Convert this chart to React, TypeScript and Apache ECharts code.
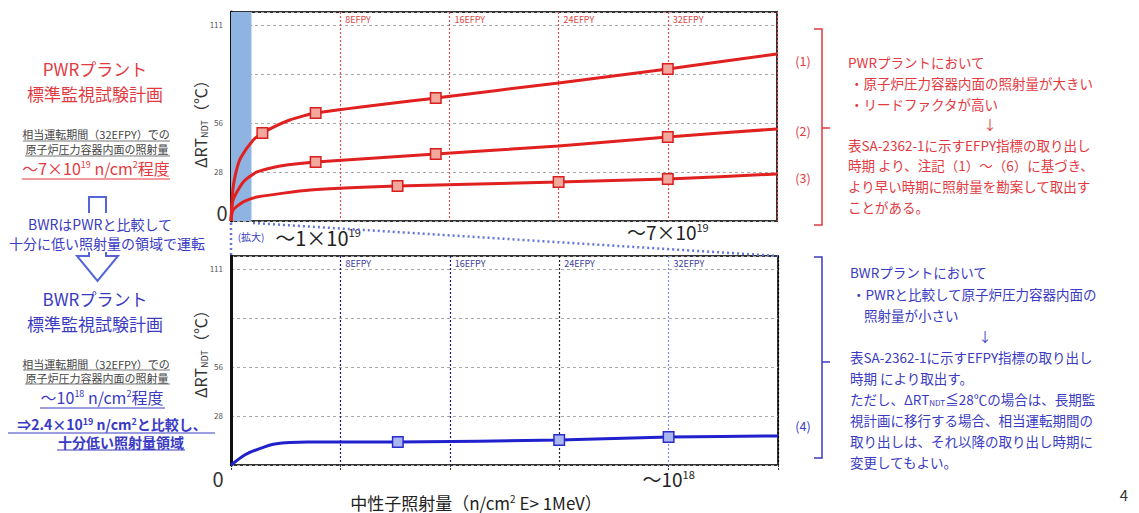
import React, { useEffect, useRef } from "react";
import * as echarts from "echarts";

const FONT = '"Noto Sans CJK JP", "Noto Sans", sans-serif';

// ---- data ----
const efpyTicks = [8, 16, 24, 32];
const yTickLabels: Record<number, string> = { 28: "28", 56: "56", 112: "111" };
const zoomRange = [0, 1.5];

const pwr1 = [[0, 0], [0.05, 8], [0.15, 19], [0.4, 29], [0.7, 36], [1.6, 46], [2.3, 50.3], [4.3, 57.7], [6.2, 61.7], [15, 70.3], [24, 78.9], [32, 86.9], [40, 95.4]];
const pwr1Markers = [[2.3, 50.3], [6.2, 61.7], [15, 70.3], [32, 86.9]];
const pwr2 = [[0, 0], [0.15, 12], [0.9, 22.3], [1.9, 28], [3.5, 31.3], [6.2, 33.7], [15, 38.3], [24, 42.9], [32, 48], [40, 52.6]];
const pwr2Markers = [[6.2, 33.7], [15, 38.3], [32, 48]];
const pwr3 = [[0, 0], [0.15, 6.3], [0.9, 10.9], [1.9, 13.7], [5.8, 17.7], [12.2, 20], [24, 22.3], [32, 24], [40, 26.9]];
const pwr3Markers = [[12.2, 20], [24, 22.3], [32, 24]];
const bwr = [[0, 0], [1.0, 5.7], [2.0, 9.1], [3.2, 12], [5.6, 13.1], [12.2, 13.1], [24, 14.3], [32, 16], [40, 16.6]];
const bwrMarkers = [[12.2, 13.1], [24, 14.3], [32, 16]];

const RED = "#e12020";
const RED_T = "#e23a3f";
const BLUE = "#2020cc";
const BLUE_T = "#3a3ac2";

function txt(x: number, y: number, text: string, fontSize: number, fill: string, extra: any = {}) {
  const align = extra.align || "left";
  return {
    type: "text",
    x,
    y,
    z: 10,
    rotation: extra.rotation || 0,
    style: {
      text,
      fontSize,
      fill,
      fontFamily: FONT,
      fontWeight: extra.bold ? "bold" : "normal",
      lineHeight: extra.lineHeight || Math.round(fontSize + 1),
      align,
      textAlign: align,
      verticalAlign: "middle",
      textVerticalAlign: "middle",
      rich: extra.rich,
    },
  };
}
function ln(x1: number, y1: number, x2: number, y2: number, stroke: string, lineWidth = 1, lineDash?: number[]) {
  return { type: "line", z: 10, shape: { x1, y1, x2, y2 }, style: { stroke, lineWidth, lineDash } };
}
function pl(points: number[][], stroke: string, lineWidth = 1.5) {
  return { type: "polyline", z: 10, shape: { points }, style: { stroke, lineWidth, fill: "none" } };
}
function supRich(size: number, sup: number, color: string, bold = false) {
  const lh = Math.round(size + 1);
  return {
    a: { fontSize: size, lineHeight: lh, fill: color, color, fontFamily: FONT, fontWeight: bold ? "bold" : "normal" },
    s: { fontSize: sup, lineHeight: lh, fill: color, color, fontFamily: FONT, verticalAlign: "top", fontWeight: bold ? "bold" : "normal" },
  };
}

function xEFPY(gridIndex: number, color: string) {
  return {
    gridIndex, type: "value", min: 0, max: 40, interval: 8, position: "top",
    axisLine: { show: false }, axisTick: { show: false }, splitLine: { show: false },
    axisLabel: {
      inside: true, margin: 3, align: "left", padding: [0, 0, 0, 5], fontSize: 9, color, fontFamily: FONT,
      formatter: (v: number) => (efpyTicks.includes(v) ? `${v}EFPY` : ""),
    },
  };
}
function yAx(gridIndex: number) {
  return {
    gridIndex, type: "value", min: 0, max: 119.4, interval: 28,
    axisLine: { show: true, lineStyle: { color: "#111", width: 3 } },
    axisTick: { show: false },
    axisLabel: { fontSize: 8, color: "#555", margin: 8, fontFamily: FONT, formatter: (v: number) => yTickLabels[v] ?? "" },
    splitLine: { show: true, lineStyle: { color: "#a8a8a8", type: [3, 3], width: 1 } },
  };
}

export default function App() {
  const ref = useRef<HTMLDivElement>(null);
  useEffect(() => {
    if (!ref.current) return;
    const chart = echarts.init(ref.current, null, { renderer: "svg" });
    const yName = (x: number, y: number) =>
      txt(x, y, "{a|ΔRT}{b|NDT}{a|（℃）}", 16, "#333", {
        align: "center",
        rotation: Math.PI / 2,
        rich: {
          a: { fontSize: 16, lineHeight: 17, fill: "#333", fontFamily: FONT },
          b: { fontSize: 9, lineHeight: 17, fill: "#333", fontFamily: FONT, verticalAlign: "bottom" },
        },
      });
    const lineSeries = (d: number[][], xi: number, yi: number, color: string) => ({
      type: "line", xAxisIndex: xi, yAxisIndex: yi, data: d, smooth: 0.2,
      showSymbol: false, z: 3, lineStyle: { color, width: 3 },
    });
    const option: any = {
      animation: false,
      backgroundColor: "#fff",
      grid: [
        { left: 231, top: 12, width: 546, height: 209, show: true, borderColor: "#333", borderWidth: 2, backgroundColor: "#fff" },
        { left: 231, top: 256, width: 547, height: 209, show: true, borderColor: "#333", borderWidth: 2, backgroundColor: "#fff" },
      ],
      xAxis: [
        {
          gridIndex: 0, type: "value", min: 0, max: 40, interval: 8, position: "bottom",
          axisLine: { show: false }, axisTick: { show: false },
          axisLabel: { margin: 0, formatter: (v: number) => (v === 32 ? "{a|～7×10}{s|19}" : ""), rich: supRich(19, 11, "#222") },
          splitLine: { show: true, lineStyle: { color: "#e05050", type: [2, 2], width: 1.2 } },
        },
        xEFPY(0, "#d84848"),
        {
          gridIndex: 1, type: "value", min: 0, max: 40, interval: 8, position: "bottom",
          axisLine: { show: false },
          axisTick: { show: true, length: 5, lineStyle: { color: "#333", type: [2, 1] } },
          axisLabel: { margin: 3, formatter: (v: number) => (v === 32 ? "{a|～10}{s|18}" : ""), rich: supRich(19, 11, "#222") },
          splitLine: { show: true, lineStyle: { color: ["#000", "#1a1a70", "#1a1a70", "#222", "#7f8ee8", "#000"], type: [2, 2], width: 1.2 } },
        },
        xEFPY(1, "#40409a"),
      ],
      yAxis: [yAx(0), yAx(1)],
      series: [
        {
          type: "line", xAxisIndex: 0, yAxisIndex: 0, data: [[0, 0]], showSymbol: false, z: 1,
          lineStyle: { width: 0 },
          markArea: { silent: true, itemStyle: { color: "#8fb4e2", opacity: 1 }, data: [[{ xAxis: zoomRange[0] }, { xAxis: zoomRange[1] }]] },
        },
        lineSeries(pwr1, 0, 0, RED),
        lineSeries(pwr2, 0, 0, RED),
        lineSeries(pwr3, 0, 0, RED),
        ...[pwr1Markers, pwr2Markers, pwr3Markers].map((d) => ({
          type: "scatter", xAxisIndex: 0, yAxisIndex: 0, data: d, symbol: "rect", symbolSize: 10.5, z: 4,
          itemStyle: { color: "#f2a89c", borderColor: "#d81e1e", borderWidth: 1.5, opacity: 1 },
        })),
        lineSeries(bwr, 2, 1, BLUE),
        {
          type: "scatter", xAxisIndex: 2, yAxisIndex: 1, data: bwrMarkers, symbol: "rect", symbolSize: 10.5, z: 4,
          itemStyle: { color: "#a9b6f0", borderColor: "#2a2acc", borderWidth: 1.5, opacity: 1 },
        },
      ],
      graphic: [
        // left panel – PWR
        txt(95, 68, "PWRプラント", 17, RED_T, { align: "center" }),
        txt(95, 93, "標準監視試験計画", 17, RED_T, { align: "center" }),
        txt(96, 134, "相当運転期間（32EFPY）での", 11, "#444", { align: "center" }),
        ln(23, 141, 170, 141, "#777"),
        txt(97, 149, "原子炉圧力容器内面の照射量", 11, "#444", { align: "center" }),
        ln(25, 156, 170, 156, "#777"),
        txt(96, 168, "{a|～7×10}{s|19}{a| n/cm}{s|2}{a|程度}", 16, RED_T, { align: "center", rich: supRich(16, 9, RED_T) }),
        ln(22, 179, 170, 179, RED_T),
        // arrow
        pl([[89, 213], [89, 197], [106, 197], [106, 213]], "#5565d8", 2),
        txt(100, 224, "BWRはPWRと比較して", 14, BLUE_T, { align: "center" }),
        txt(107, 243, "十分に低い照射量の領域で運転", 14, BLUE_T, { align: "center" }),
        pl([[89, 252], [89, 256], [77, 256], [97.5, 281], [118, 256], [106, 256], [106, 252]], "#5565d8", 2),
        // left panel – BWR
        txt(95, 298, "BWRプラント", 17, BLUE_T, { align: "center" }),
        txt(95, 323, "標準監視試験計画", 17, BLUE_T, { align: "center" }),
        txt(96, 364, "相当運転期間（32EFPY）での", 11, "#444", { align: "center" }),
        ln(23, 370, 170, 370, "#777"),
        txt(97, 378, "原子炉圧力容器内面の照射量", 11, "#444", { align: "center" }),
        ln(25, 384, 170, 384, "#777"),
        txt(102, 397, "{a|～10}{s|18}{a| n/cm}{s|2}{a|程度}", 16, BLUE_T, { align: "center", rich: supRich(16, 9, BLUE_T) }),
        ln(40, 408, 165, 408, BLUE_T),
        txt(112, 424, "{a|⇒2.4×10}{s|19}{a| n/cm}{s|2}{a|と比較し、}", 14, BLUE_T, { align: "center", rich: supRich(14, 9, BLUE_T, true) }),
        ln(8, 433, 215, 433, BLUE_T),
        txt(121, 442, "十分低い照射量領域", 14, BLUE_T, { align: "center", bold: true }),
        ln(57, 450, 185, 450, BLUE_T),
        // axis names / annotations
        yName(200, 120),
        yName(200, 350),
        txt(222, 212, "0", 20, "#333", { align: "center" }),
        txt(218, 478, "0", 20, "#333", { align: "center" }),
        txt(251, 236, "(拡大)", 10, BLUE_T, { align: "center" }),
        txt(318, 237, "{a|～1×10}{s|19}", 20, "#222", { align: "center", rich: supRich(20, 11, "#222") }),
        ln(231, 223, 231, 256, "#6575d8", 2.5, [2, 3]),
        ln(253, 223, 778, 256, "#6575d8", 2.5, [2, 3]),
        txt(476, 502, "{a|中性子照射量（n/cm}{s|2}{a| E> 1MeV）}", 17, "#222", { align: "center", rich: supRich(17, 10, "#222") }),
        // right labels and brackets
        txt(803, 60, "(1)", 12.5, RED_T, { align: "center" }),
        txt(803, 130, "(2)", 12.5, RED_T, { align: "center" }),
        txt(803, 177, "(3)", 12.5, RED_T, { align: "center" }),
        txt(803, 425, "(4)", 12.5, BLUE_T, { align: "center" }),
        pl([[814, 29], [822, 29], [822, 225], [814, 225]], RED_T, 1.5),
        ln(822, 128, 830, 128, RED_T, 1.5),
        pl([[814, 257], [822, 257], [822, 458], [814, 458]], BLUE_T, 1.5),
        ln(822, 362, 830, 362, BLUE_T, 1.5),
        // right red text
        txt(848, 62, "PWRプラントにおいて", 13.5, RED_T),
        txt(850, 83, "・原子炉圧力容器内面の照射量が大きい", 13.5, RED_T),
        txt(850, 104, "・リードファクタが高い", 13.5, RED_T),
        txt(990, 124, "↓", 13.5, RED_T, { align: "center" }),
        txt(848, 145, "表SA-2362-1に示すEFPY指標の取り出し", 13.5, RED_T),
        txt(848, 165, "時期 より、注記（1）～（6）に基づき、", 13.5, RED_T),
        txt(848, 186, "より早い時期に照射量を勘案して取出す", 13.5, RED_T),
        txt(848, 207, "ことがある。", 13.5, RED_T),
        // right blue text
        txt(850, 272, "BWRプラントにおいて", 13.5, BLUE_T),
        txt(852, 294, "・PWRと比較して原子炉圧力容器内面の", 13.5, BLUE_T),
        txt(864, 315, "照射量が小さい", 13.5, BLUE_T),
        txt(985, 336, "↓", 13.5, BLUE_T, { align: "center" }),
        txt(850, 357, "表SA-2362-1に示すEFPY指標の取り出し", 13.5, BLUE_T),
        txt(850, 378, "時期 により取出す。", 13.5, BLUE_T),
        txt(850, 399, "{a|ただし、ΔRT}{b|NDT}{a|≦28℃の場合は、長期監}", 13.5, BLUE_T, {
          rich: {
            a: { fontSize: 13.5, lineHeight: 15, fill: BLUE_T, fontFamily: FONT },
            b: { fontSize: 8, lineHeight: 15, fill: BLUE_T, fontFamily: FONT, verticalAlign: "bottom" },
          },
        }),
        txt(850, 420, "視計画に移行する場合、相当運転期間の", 13.5, BLUE_T),
        txt(850, 441, "取り出しは、それ以降の取り出し時期に", 13.5, BLUE_T),
        txt(850, 462, "変更してもよい。", 13.5, BLUE_T),
        txt(1124, 494, "4", 15, "#333", { align: "center" }),
      ],
    };
    chart.setOption(option);
    return () => chart.dispose();
  }, []);
  return <div ref={ref} style={{ position: "absolute", left: 0, top: 0, width: 1139, height: 513, background: "#fff" }} />;
}
